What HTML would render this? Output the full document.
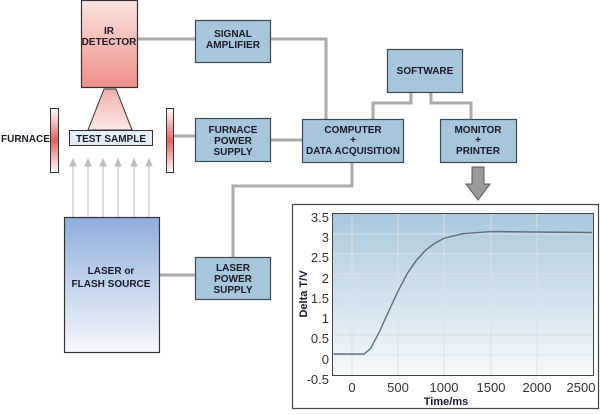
<!DOCTYPE html>
<html><head><meta charset="utf-8"><style>
html,body{margin:0;padding:0;background:#fff;}
body{width:600px;height:410px;overflow:hidden;}
text{font-family:"Liberation Sans",sans-serif;}
</style></head><body>
<svg width="600" height="410" viewBox="0 0 600 410" xmlns="http://www.w3.org/2000/svg">
<defs>
<linearGradient id="red" x1="0" y1="0" x2="0" y2="1"><stop offset="0" stop-color="#fbe4e0"/><stop offset="1" stop-color="#ee8f88"/></linearGradient>
<linearGradient id="cone" x1="0" y1="0" x2="0" y2="1"><stop offset="0" stop-color="#f1b0aa"/><stop offset="1" stop-color="#fde9e6"/></linearGradient>
<linearGradient id="bar" x1="0" y1="0" x2="0" y2="1"><stop offset="0" stop-color="#fff"/><stop offset="0.5" stop-color="#e85f5f"/><stop offset="1" stop-color="#fff"/></linearGradient>
<linearGradient id="laser" x1="0" y1="0" x2="0" y2="1"><stop offset="0" stop-color="#8eaedb"/><stop offset="1" stop-color="#f7f9fd"/></linearGradient>
<linearGradient id="plot" x1="0" y1="0" x2="0" y2="1"><stop offset="0" stop-color="#a9c8dc"/><stop offset="1" stop-color="#f6fafc"/></linearGradient>
</defs>
<g stroke="#aaaaaa" stroke-width="3" fill="none">
<line x1="137" y1="39" x2="195" y2="39"/>
<polyline points="270,39 326,39 326,119"/>
<line x1="173" y1="136" x2="195" y2="136"/>
<line x1="270" y1="140" x2="302" y2="140"/>
<polyline points="411,92 411,103 373,103 373,119"/>
<polyline points="431,92 431,103 471,103 471,119"/>
<polyline points="352,162 352,186 233,186 233,257"/>
<line x1="159" y1="275" x2="195" y2="275"/>
</g>
<rect x="81.5" y="0.5" width="56" height="87" fill="url(#red)" stroke="#333" stroke-width="1.2"/>
<text x="109" y="34" font-size="10" font-weight="bold" text-anchor="middle" fill="#1a1a2a">IR</text>
<text x="109" y="45" font-size="10" font-weight="bold" text-anchor="middle" fill="#1a1a2a">DETECTOR</text>
<polygon points="104,89 116,89 132,130 88,130" fill="url(#cone)" stroke="#333" stroke-width="1"/>
<rect x="69.5" y="130.5" width="83" height="15" fill="#e3eef4" stroke="#333" stroke-width="1"/>
<text x="111" y="142" font-size="10" font-weight="bold" text-anchor="middle" fill="#1a1a2a">TEST SAMPLE</text>
<rect x="50.5" y="108.5" width="8" height="64" fill="url(#bar)" stroke="#333" stroke-width="1"/>
<rect x="166.5" y="108.5" width="7" height="64" fill="url(#bar)" stroke="#333" stroke-width="1"/>
<text x="1" y="142" font-size="10" font-weight="bold" fill="#1a1a2a">FURNACE</text>
<g stroke="#bbb" stroke-width="1" fill="#bbb">
<line x1="73" y1="217" x2="73" y2="163"/><polygon points="70,166 73,159 76,166"/>
<line x1="88" y1="217" x2="88" y2="163"/><polygon points="85,166 88,159 91,166"/>
<line x1="103" y1="217" x2="103" y2="163"/><polygon points="100,166 103,159 106,166"/>
<line x1="118" y1="217" x2="118" y2="163"/><polygon points="115,166 118,159 121,166"/>
<line x1="134" y1="217" x2="134" y2="163"/><polygon points="131,166 134,159 137,166"/>
<line x1="149" y1="217" x2="149" y2="163"/><polygon points="146,166 149,159 152,166"/>
</g>
<rect x="64.5" y="217.5" width="95" height="135" fill="url(#laser)" stroke="#333" stroke-width="1.2"/>
<text x="111" y="274" font-size="10" font-weight="bold" text-anchor="middle" fill="#1a1a2a">LASER or</text>
<text x="111" y="287" font-size="10" font-weight="bold" text-anchor="middle" fill="#1a1a2a">FLASH SOURCE</text>
<g fill="#a7c6da" stroke="#3a4a55" stroke-width="1.2">
<rect x="195.5" y="20.5" width="75" height="42"/>
<rect x="195.5" y="118.5" width="75" height="43"/>
<rect x="195.5" y="257.5" width="75" height="42"/>
<rect x="387.5" y="49.5" width="75" height="43"/>
<rect x="302.5" y="119.5" width="101" height="43"/>
<rect x="440.5" y="119.5" width="76" height="43"/>
</g>
<g font-size="10" font-weight="bold" text-anchor="middle" fill="#1a1a2a">
<text x="233" y="37">SIGNAL</text><text x="233" y="48">AMPLIFIER</text>
<text x="233" y="133">FURNACE</text><text x="233" y="144">POWER</text><text x="233" y="155">SUPPLY</text>
<text x="233" y="271">LASER</text><text x="233" y="282">POWER</text><text x="233" y="293">SUPPLY</text>
<text x="425" y="74">SOFTWARE</text>
<text x="353" y="133">COMPUTER</text><text x="353" y="143">+</text><text x="353" y="154">DATA ACQUISITION</text>
<text x="478" y="133">MONITOR</text><text x="478" y="143">+</text><text x="478" y="154">PRINTER</text>
</g>
<polygon points="472,167 484,167 484,184 490,184 478,200 466,184 472,184" fill="#9a9a9a" stroke="#555" stroke-width="1"/>
<rect x="292.5" y="204.5" width="306" height="204" fill="#fff" stroke="#444" stroke-width="1.2"/>
<rect x="332.5" y="213.5" width="261" height="162" fill="url(#plot)" stroke="#444" stroke-width="1"/>
<g stroke="#d5e3ec" stroke-width="1">
<line x1="333" y1="234" x2="593" y2="234"/><line x1="333" y1="254" x2="593" y2="254"/>
<line x1="333" y1="274" x2="593" y2="274"/><line x1="333" y1="294" x2="593" y2="294"/>
<line x1="333" y1="314" x2="593" y2="314"/><line x1="333" y1="335" x2="593" y2="335"/>
<line x1="333" y1="355" x2="593" y2="355"/>
<line x1="352" y1="214" x2="352" y2="375"/><line x1="398" y1="214" x2="398" y2="375"/>
<line x1="444" y1="214" x2="444" y2="375"/><line x1="491" y1="214" x2="491" y2="375"/>
<line x1="537" y1="214" x2="537" y2="375"/>
</g>
<polyline fill="none" stroke="#5f6f7c" stroke-width="1.4" points="333.5,354 364,354 370.5,348.7 379.7,331.2 389,310.6 398.2,290.8 407.4,273.3 416.7,260 425.9,249.9 435.2,243 444.4,238.1 462.9,233.7 490.6,231.6 536.8,232 592,232.5"/>
<g font-size="13" fill="#333" text-anchor="end">
<text x="329" y="222">3.5</text><text x="329" y="242">3</text><text x="329" y="262">2.5</text>
<text x="329" y="283">2</text><text x="329" y="303">1.5</text><text x="329" y="323">1</text>
<text x="329" y="343">0.5</text><text x="329" y="364">0</text><text x="329" y="384">-0.5</text>
</g>
<g font-size="13" fill="#333" text-anchor="middle">
<text x="352" y="392">0</text><text x="398" y="392">500</text><text x="444" y="392">1000</text>
<text x="491" y="392">1500</text><text x="537" y="392">2000</text><text x="581" y="392">2500</text>
</g>
<text x="446" y="405" font-size="11" font-weight="bold" text-anchor="middle" fill="#1a1a2a">Time/ms</text>
<text transform="translate(307,294) rotate(-90)" font-size="11" font-weight="bold" text-anchor="middle" fill="#1a1a2a">Delta T/V</text>
</svg>
</body></html>
